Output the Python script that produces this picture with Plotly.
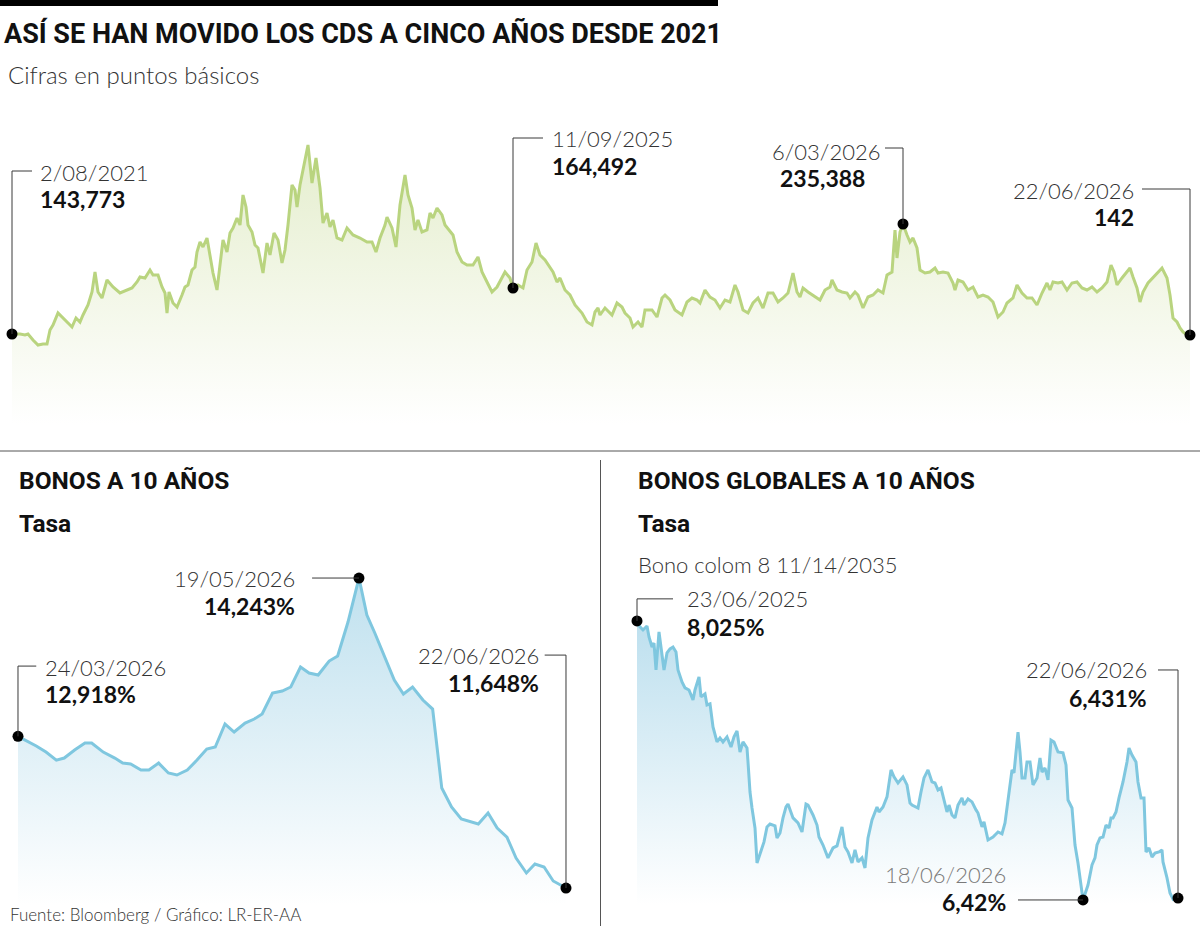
import plotly.graph_objects as go

W, H = 1200, 926

# ---------------- DATA ----------------
# CDS a cinco años (puntos básicos), posición temporal t
cds_t = [0, 8, 13, 16, 21, 26, 31, 35, 38, 41,
         46, 51, 55, 60, 64, 68, 71, 76, 80, 83,
         86, 90, 95, 101, 108, 115, 120, 125, 128, 133,
         138, 141, 146, 150, 153, 155, 157, 161, 165, 170,
         173, 176, 180, 183, 185, 188, 191, 195, 198, 201,
         205, 208, 211, 215, 218, 221, 225, 228, 231, 234,
         236, 240, 243, 246, 251, 255, 258, 262, 266, 270,
         273, 276, 280, 283, 285, 288, 293, 296, 300, 304,
         308, 311, 315, 318, 321, 325, 330, 335, 341, 348,
         355, 360, 364, 368, 373, 375, 380, 384, 388, 393,
         396, 400, 403, 406, 410, 415, 418, 421, 425, 430,
         433, 438, 441, 445, 450, 455, 461, 466, 470, 475,
         480, 485, 490, 493, 498, 501, 506, 511, 515, 520,
         524, 528, 533, 536, 541, 545, 548, 553, 558, 563,
         570, 575, 580, 583, 586, 588, 593, 600, 605, 610,
         613, 618, 621, 626, 630, 633, 640, 645, 650, 653,
         658, 663, 670, 675, 680, 685, 688, 693, 698, 703,
         708, 713, 718, 723, 726, 731, 736, 741, 746, 751,
         756, 761, 766, 771, 776, 781, 785, 788, 791, 796,
         801, 808, 813, 818, 820, 825, 830, 835, 838, 843,
         846, 851, 856, 861, 866, 871, 875, 880, 883, 885,
         888, 891, 895, 898, 901, 905, 908, 913, 918, 923,
         926, 931, 936, 941, 943, 946, 951, 956, 961, 966,
         971, 976, 981, 986, 991, 995, 1001, 1005, 1010, 1015,
         1020, 1025, 1030, 1035, 1038, 1041, 1046, 1050, 1055, 1060,
         1065, 1070, 1075, 1080, 1085, 1090, 1095, 1099, 1102, 1105,
         1110, 1115, 1118, 1121, 1125, 1128, 1131, 1136, 1141, 1146,
         1150, 1155, 1158, 1161, 1165, 1168, 1171, 1175, 1178]
cds_v = [144, 144, 143, 144, 138, 133, 134, 134, 148, 153,
         165, 160, 156, 151, 160, 156, 163, 173, 186, 206,
         186, 180, 198, 191, 185, 188, 190, 196, 201, 200,
         208, 203, 203, 191, 185, 165, 186, 175, 171, 183,
         191, 193, 208, 211, 226, 236, 231, 240, 223, 205,
         188, 213, 238, 226, 245, 250, 260, 253, 283, 271,
         253, 246, 233, 230, 205, 235, 223, 245, 238, 215,
         228, 253, 293, 288, 271, 293, 316, 333, 295, 320,
         290, 255, 265, 251, 258, 240, 238, 250, 243, 240,
         236, 236, 226, 240, 253, 261, 250, 231, 273, 303,
         283, 270, 248, 258, 246, 248, 265, 260, 270, 263,
         253, 246, 243, 226, 216, 213, 213, 221, 206, 196,
         186, 191, 200, 206, 200, 190, 193, 190, 208, 216,
         235, 223, 218, 213, 206, 196, 200, 188, 183, 173,
         165, 156, 153, 166, 170, 163, 170, 163, 175, 171,
         165, 160, 151, 156, 151, 168, 168, 161, 180, 183,
         178, 168, 163, 176, 180, 178, 175, 188, 181, 178,
         170, 178, 176, 193, 186, 168, 165, 175, 180, 170,
         185, 185, 176, 180, 185, 205, 186, 181, 190, 186,
         183, 178, 188, 191, 198, 188, 186, 185, 180, 186,
         183, 170, 181, 183, 188, 185, 203, 206, 248, 220,
         246, 254, 243, 236, 240, 230, 208, 205, 206, 210,
         205, 206, 205, 195, 188, 198, 196, 188, 191, 181,
         183, 181, 176, 161, 166, 175, 180, 193, 185, 180,
         180, 173, 185, 195, 188, 196, 195, 196, 188, 195,
         196, 190, 188, 191, 186, 190, 196, 213, 206, 193,
         200, 206, 210, 201, 190, 176, 186, 195, 200, 206,
         210, 200, 183, 160, 156, 150, 146, 143, 143]
cds_hl_t = [0, 501, 891, 1178]
cds_hl_date = ["2/08/2021", "11/09/2025", "6/03/2026", "22/06/2026"]
cds_hl_text = ["143,773", "164,492", "235,388", "142"]

# Bonos a 10 años (tasa %), días desde 24/03/2026
b10_d = [0.0, 3.0, 4.6, 6.3, 7.6, 9.3, 11.0, 12.1, 14.0, 15.9,
         17.2, 18.5, 20.2, 21.5, 23.1, 24.7, 26.1, 27.8, 29.4, 31.0,
         32.4, 34.0, 35.5, 37.3, 38.8, 40.1, 41.8, 43.4, 44.8, 46.4,
         47.8, 49.3, 51.1, 52.5, 54.2, 56.0, 57.3, 58.6, 61.8, 63.3,
         64.8, 66.5, 68.1, 69.6, 71.2, 72.8, 75.6, 77.2, 78.7, 80.3,
         81.8, 83.5, 84.9, 86.4, 87.9, 89.1, 90.0]
b10_v = [12.918, 12.837, 12.786, 12.719, 12.736, 12.803, 12.862, 12.862, 12.786, 12.736,
         12.694, 12.686, 12.636, 12.636, 12.694, 12.611, 12.594, 12.636, 12.719, 12.812,
         12.828, 13.021, 12.954, 13.029, 13.063, 13.105, 13.280, 13.297, 13.331, 13.498,
         13.448, 13.431, 13.548, 13.590, 13.875, 14.243, 13.933, 13.783, 13.389, 13.272,
         13.331, 13.222, 13.146, 12.485, 12.326, 12.226, 12.184, 12.276, 12.150, 12.075,
         11.899, 11.774, 11.849, 11.824, 11.707, 11.673, 11.648]
b10_hl_d = [0.0, 56.0, 90.0]
b10_hl_date = ["24/03/2026", "19/05/2026", "22/06/2026"]
b10_hl_text = ["12,918%", "14,243%", "11,648%"]

# Bonos globales a 10 años (tasa %), posición temporal t
glb_t = [0, 3, 6, 10, 12, 15, 17, 19, 22, 25,
         27, 30, 33, 36, 39, 41, 45, 48, 52, 56,
         58, 62, 64, 68, 70, 73, 76, 80, 83, 86,
         90, 94, 97, 100, 103, 106, 110, 111, 113, 115,
         118, 120, 124, 127, 130, 133, 138, 140, 143, 146,
         149, 151, 156, 161, 165, 169, 171, 176, 180, 182,
         186, 191, 196, 200, 205, 208, 211, 215, 218, 221,
         225, 228, 231, 235, 240, 242, 246, 250, 254, 257,
         261, 266, 270, 273, 275, 281, 284, 287, 291, 295,
         298, 301, 304, 307, 310, 312, 315, 318, 321, 325,
         327, 331, 335, 339, 341, 345, 347, 351, 356, 361,
         365, 368, 372, 375, 377, 381, 383, 385, 388, 390,
         393, 396, 400, 403, 405, 408, 411, 414, 417, 421,
         426, 429, 431, 435, 438, 441, 446, 451, 455, 458,
         460, 463, 466, 469, 472, 474, 476, 479, 482, 486,
         490, 492, 495, 499, 501, 504, 507, 509, 512, 515,
         518, 522, 525, 526, 530, 533, 536, 539, 541]
glb_v = [8.025, 7.991, 7.973, 7.996, 7.933, 7.875, 7.898, 7.743, 7.962, 7.847,
         7.743, 7.841, 7.864, 7.875, 7.847, 7.743, 7.674, 7.640, 7.628, 7.571,
         7.628, 7.703, 7.588, 7.605, 7.542, 7.548, 7.415, 7.329, 7.352, 7.329,
         7.358, 7.300, 7.358, 7.392, 7.271, 7.329, 7.294, 7.214, 7.041, 6.949,
         6.834, 6.633, 6.696, 6.754, 6.840, 6.857, 6.846, 6.777, 6.805, 6.892,
         6.955, 6.972, 6.892, 6.863, 6.811, 6.972, 6.966, 6.909, 6.851, 6.782,
         6.736, 6.662, 6.719, 6.731, 6.840, 6.725, 6.696, 6.633, 6.708, 6.639,
         6.662, 6.604, 6.777, 6.880, 6.955, 6.926, 6.955, 7.013, 7.168, 7.128,
         7.093, 7.128, 7.082, 6.978, 6.966, 6.949, 7.041, 7.122, 7.168, 7.099,
         7.093, 7.053, 7.064, 6.995, 6.926, 6.966, 6.909, 6.892, 6.966, 7.007,
         6.966, 7.001, 6.984, 6.938, 6.920, 6.840, 6.869, 6.765, 6.782, 6.811,
         6.800, 6.863, 7.036, 7.168, 7.151, 7.386, 7.271, 7.122, 7.122, 7.214,
         7.214, 7.082, 7.122, 7.237, 7.156, 7.179, 7.110, 7.340, 7.329, 7.271,
         7.266, 7.197, 6.995, 6.949, 6.736, 6.633, 6.420, 6.506, 6.621, 6.662,
         6.736, 6.777, 6.782, 6.851, 6.834, 6.892, 6.892, 6.926, 7.007, 7.099,
         7.214, 7.294, 7.254, 7.214, 7.099, 7.007, 7.007, 6.696, 6.719, 6.667,
         6.690, 6.696, 6.708, 6.639, 6.547, 6.460, 6.425, 6.437, 6.431]
glb_hl_t = [0, 446, 541]
glb_hl_date = ["23/06/2025", "18/06/2026", "22/06/2026"]
glb_hl_text = ["8,025%", "6,42%", "6,431%"]

title_text = "ASÍ SE HAN MOVIDO LOS CDS A CINCO AÑOS DESDE 2021"
subtitle_text = "Cifras en puntos básicos"
left_title = "BONOS A 10 AÑOS"
right_title = "BONOS GLOBALES A 10 AÑOS"
unit_text = "Tasa"
bond_text = "Bono colom 8 11/14/2035"
source_text = "Fuente: Bloomberg / Gráfico: LR-ER-AA"

# ---------------- STYLE ----------------
GREEN = "#b9d47f"
BLUE = "#7fc7df"
NARROW = "Liberation Sans Narrow, Arial Narrow, Roboto, sans-serif"
LIGHT = "Lato, Open Sans, sans-serif"
DATE_COLOR = "#333333"


def px(x):
    return x / W


def py(y):
    return 1 - y / H


# axis layout (domain in pixels -> paper)
panels = {
    "top": dict(xa="x", ya="y", xdom=(4, 1196), xr=(-8, 1184), ydom=(425, 130), yr=(53, 348)),
    "left": dict(xa="x2", ya="y2", xdom=(8, 575), xr=(-1.64, 91.48), ydom=(905, 560), yr=(11.506, 14.394)),
    "right": dict(xa="x3", ya="y3", xdom=(628, 1186), xr=(-9, 549), ydom=(905, 590), yr=(6.391, 8.203)),
}

# callout placement (axis units)
callouts = {
    "top": [
        dict(kind="v", ytop=307, xend=20, dx=26, danch="left", dy=306, vx=26, vanch="left", vy=279),
        dict(kind="v", ytop=340, xend=531, dx=538, danch="left", dy=340, vx=538, vanch="left", vy=312),
        dict(kind="v", ytop=330, xend=873, dx=870, danch="right", dy=327, vx=766, vanch="left", vy=300),
        dict(kind="v", ytop=289, xend=1130, dx=1124, danch="right", dy=288, vx=1124, vanch="right", vy=261),
    ],
    "left": [
        dict(kind="v", ytop=13.506, xend=3.0, dx=4.1, danch="left", dy=13.498, vx=4.1, vanch="left", vy=13.272),
        dict(kind="h", xend=48.3, dx=45.8, danch="right", dy=14.243, vx=45.8, vanch="right", vy=14.009),
        dict(kind="v", ytop=13.598, xend=86.5, dx=85.9, danch="right", dy=13.598, vx=85.9, vanch="right", vy=13.364),
    ],
    "right": [
        dict(kind="v", ytop=8.152, xend=36, dx=48, danch="left", dy=8.152, vx=48, vanch="left", vy=7.990),
        dict(kind="h", xend=381, dx=371, danch="right", dy=6.564, vx=371, vanch="right", vy=6.408, dcolor="#7a7a7a"),
        dict(kind="v", ytop=7.743, xend=521, dx=512, danch="right", dy=7.743, vx=512, vanch="right", vy=7.582),
    ],
}

series = {
    "top": (cds_t, cds_v, cds_hl_t, cds_hl_date, cds_hl_text, GREEN,
            [[0, "rgb(255,255,255)"], [1, "rgb(229,238,206)"]], (53, 330)),
    "left": (b10_d, b10_v, b10_hl_d, b10_hl_date, b10_hl_text, BLUE,
             [[0, "rgb(255,255,255)"], [1, "rgb(190,224,238)"]], (11.506, 14.3)),
    "right": (glb_t, glb_v, glb_hl_t, glb_hl_date, glb_hl_text, BLUE,
              [[0, "rgb(255,255,255)"], [1, "rgb(188,223,238)"]], (6.391, 8.05)),
}

fig = go.Figure()
shapes = []
annotations = []

for key, (xs, ys, hl_x, hl_date, hl_text, color, cscale, (gs, ge)) in series.items():
    p = panels[key]
    fig.add_trace(go.Scatter(
        x=xs, y=ys, mode="lines", xaxis=p["xa"], yaxis=p["ya"],
        line=dict(color=color, width=3, shape="linear"),
        fill="tozeroy",
        fillgradient=dict(type="vertical", colorscale=cscale, start=gs, stop=ge),
        hoverinfo="skip", showlegend=False,
    ))
    mx = list(hl_x)
    my = [ys[xs.index(v)] for v in hl_x]
    fig.add_trace(go.Scatter(
        x=mx, y=my, mode="markers", xaxis=p["xa"], yaxis=p["ya"],
        marker=dict(color="black", size=11), cliponaxis=False,
        hoverinfo="skip", showlegend=False,
    ))
    for (x0, y0, d, t, c) in zip(mx, my, hl_date, hl_text, callouts[key]):
        if c["kind"] == "v":
            path = f"M {x0},{y0} L {x0},{c['ytop']} L {c['xend']},{c['ytop']}"
        else:
            path = f"M {x0},{y0} L {c['xend']},{y0}"
        shapes.append(dict(type="path", path=path, xref=p["xa"], yref=p["ya"],
                           line=dict(color="#3a3a3a", width=1), layer="above"))
        annotations.append(dict(
            text=d, x=c["dx"], y=c["dy"], xref=p["xa"], yref=p["ya"],
            xanchor=c["danch"], yanchor="middle", showarrow=False,
            font=dict(family=LIGHT, size=22, color=c.get("dcolor", DATE_COLOR), weight=300)))
        annotations.append(dict(
            text=t, x=c["vx"], y=c["vy"], xref=p["xa"], yref=p["ya"],
            xanchor=c["vanch"], yanchor="middle", showarrow=False,
            font=dict(family=LIGHT, size=23, color="#111111", weight=700)))


def ptext(text, x, y, family, size, weight, color="#111111"):
    annotations.append(dict(text=text, x=px(x), y=py(y), xref="paper", yref="paper",
                            xanchor="left", yanchor="middle", showarrow=False,
                            font=dict(family=family, size=size, weight=weight, color=color)))


ptext(title_text, 2, 33, NARROW, 27, 700)
ptext(subtitle_text, 6, 75, LIGHT, 24, 300, "#333333")
ptext(left_title, 17, 480, NARROW, 24.5, 700)
ptext(unit_text, 17, 523, NARROW, 24.5, 700)
ptext(right_title, 636, 480, NARROW, 24.5, 700)
ptext(unit_text, 636, 523, NARROW, 24.5, 700)
ptext(bond_text, 636, 564, LIGHT, 22, 300, "#333333")
ptext(source_text, 8, 914, LIGHT, 17, 300, "#333333")

shapes += [
    dict(type="rect", xref="paper", yref="paper", x0=0, x1=px(718), y0=py(6), y1=1,
         fillcolor="black", line=dict(width=0)),
    dict(type="line", xref="paper", yref="paper", x0=0, x1=1, y0=py(451), y1=py(451),
         line=dict(color="#555555", width=1)),
    dict(type="line", xref="paper", yref="paper", x0=px(600.5), x1=px(600.5), y0=py(460), y1=0,
         line=dict(color="#555555", width=1)),
]

layout_axes = {}
for i, key in enumerate(["top", "left", "right"]):
    p = panels[key]
    sfx = "" if i == 0 else str(i + 1)
    layout_axes["xaxis" + sfx] = dict(domain=[px(p["xdom"][0]), px(p["xdom"][1])], range=list(p["xr"]),
                                      visible=False, anchor=p["ya"], fixedrange=True)
    layout_axes["yaxis" + sfx] = dict(domain=[py(p["ydom"][0]), py(p["ydom"][1])], range=list(p["yr"]),
                                      visible=False, anchor=p["xa"], fixedrange=True)

fig.update_layout(
    width=W, height=H, margin=dict(l=0, r=0, t=0, b=0),
    paper_bgcolor="white", plot_bgcolor="rgba(0,0,0,0)",
    showlegend=False, hovermode=False,
    shapes=shapes, annotations=annotations,
    **layout_axes,
)

fig.write_html("out.html", config={"displayModeBar": False})
